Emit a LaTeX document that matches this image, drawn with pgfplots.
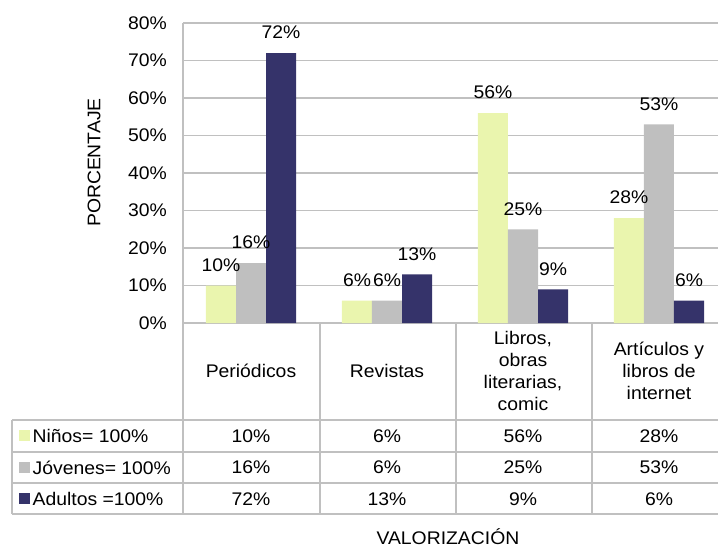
\documentclass[border=0pt]{standalone}
\usepackage{fontspec}
\setmainfont{Liberation Sans}[FakeStretch=1.06]
\usepackage{pgfplots}
\usepackage{pgfplotstable}
\pgfplotsset{compat=1.18}
\definecolor{cN}{RGB}{234,245,174}
\definecolor{cJ}{RGB}{191,191,191}
\definecolor{cA}{RGB}{53,51,106}
\definecolor{gridc}{RGB}{192,192,192}
\newcommand\myfont{\fontsize{13.7}{16.5}\selectfont}
\pgfplotstableread{
x N J A
0 10 16 72
1 6 6 13
2 56 25 9
3 28 53 6
}\data
\begin{document}
\begin{tikzpicture}[font=\myfont]
\begin{axis}[
  at={(137.25pt,-242.25pt)}, anchor=south west,
  scale only axis, width=408pt, height=225pt,
  xmin=-0.5, xmax=3.5, ymin=0, ymax=80,
  ybar=0pt, bar width=22.5pt,
  clip=false,
  /pgf/number format/assume math mode=true,
  ytick={0,10,...,80},
  yticklabel={\pgfmathprintnumber{\tick}\%},
  yticklabel style={xshift=-8.5pt, font=\myfont},
  xtick={0,1,2,3},
  xticklabels={Periódicos, Revistas, {Libros,\\obras\\literarias,\\comic}, {Artículos y\\libros de\\internet}},
  xticklabel style={align=center, anchor=center, yshift=-36pt, font=\myfont},
  major tick length=0pt,
  tick style={draw=none},
  ymajorgrids, grid style={draw=gridc, line width=1pt},
  axis x line=bottom, axis y line=left,
  axis line style={draw=gridc, line width=1pt, -},
  ylabel={PORCENTAJE},
  every axis y label/.style={at={(axis description cs:-0.1636,0.535)}, rotate=90, anchor=center, font=\myfont},
  xlabel={VALORIZACIÓN},
  every axis x label/.style={at={(axis description cs:0.487,-0.7367)}, anchor=base, font=\myfont},
  nodes near coords={\pgfmathprintnumber{\pgfplotspointmeta}\%},
  every node near coord/.append style={yshift=7pt, font=\myfont, text=black},
]
\addplot[fill=cN, draw=none] table[x=x, y=N]{\data};
\addplot[fill=cJ, draw=none] table[x=x, y=J]{\data};
\addplot[fill=cA, draw=none] table[x=x, y=A]{\data};
\end{axis}
\begin{axis}[
  at={(137.25pt,-242.25pt)}, anchor=south west,
  scale only axis, width=408pt, height=225pt,
  xmin=-0.5, xmax=3.5, ymin=0, ymax=80,
  hide axis, clip=false,
  /pgf/number format/assume math mode=true,
  nodes near coords={\pgfmathprintnumber{\pgfplotspointmeta}\%},
  nodes near coords align=center,
  every node near coord/.append style={anchor=center, font=\myfont, text=black},
]
\addplot[draw=none, mark=none, point meta=explicit] table[x=x, y expr=-30.13, meta=N]{\data};
\addplot[draw=none, mark=none, point meta=explicit] table[x=x, y expr=-38.53, meta=J]{\data};
\addplot[draw=none, mark=none, point meta=explicit] table[x=x, y expr=-46.93, meta=A]{\data};
\end{axis}
\begin{scope}[x=0.75pt, y=-0.75pt, line width=1pt, draw=gridc]
  \foreach \yy in {420,452,483,514} \draw[gridc] (12,\yy) -- (727,\yy);
  \foreach \xx in {183,320,456,592} \draw[gridc] (\xx,323) -- (\xx,514);
  \draw[gridc] (12,420) -- (12,514);
  \fill[cN] (19,430) rectangle (30,441);
  \fill[cJ] (19,462) rectangle (30,473);
  \fill[cA] (19,493) rectangle (30,504);
  \node[anchor=west, inner sep=0pt] at (32,436) {Niños= 100\%};
  \node[anchor=west, inner sep=0pt] at (32,467.5) {Jóvenes= 100\%};
  \node[anchor=west, inner sep=0pt] at (32,499) {Adultos =100\%};
\end{scope}
\pgfresetboundingbox
\path (0,0) rectangle (538.5pt,-409.5pt);
\end{tikzpicture}
\end{document}
